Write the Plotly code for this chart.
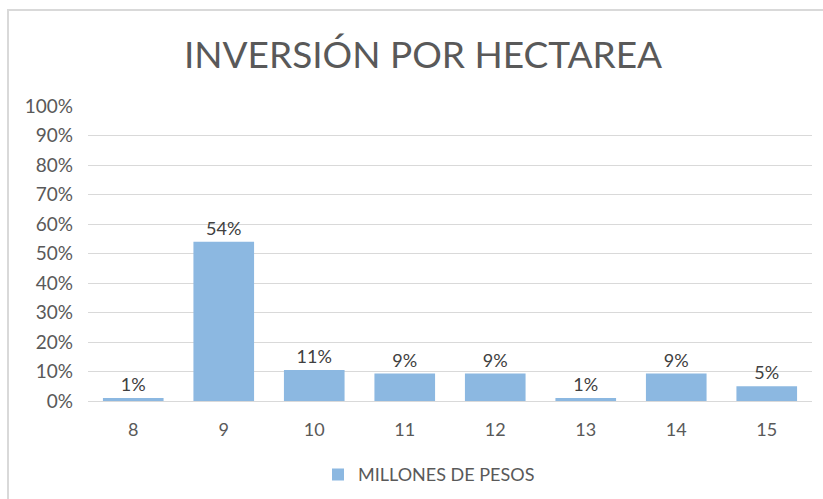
import plotly.graph_objects as go

# Data
categories = ["8", "9", "10", "11", "12", "13", "14", "15"]
values = [0.01, 0.54, 0.105, 0.093, 0.093, 0.01, 0.093, 0.05]
labels = ["1%", "54%", "11%", "9%", "9%", "1%", "9%", "5%"]
series_name = "MILLONES DE PESOS"

fig = go.Figure()
fig.add_trace(go.Bar(
    x=categories,
    y=values,
    name=series_name,
    text=labels,
    textposition="outside",
    textfont=dict(size=18, color="#404040"),
    marker=dict(color="#8CB8E1", line=dict(width=0)),
    cliponaxis=False,
    showlegend=True,
))

fig.update_layout(
    width=823,
    height=499,
    margin=dict(l=88, r=11, t=106, b=98, autoexpand=False),
    paper_bgcolor="white",
    plot_bgcolor="white",
    font=dict(family="Lato, sans-serif", color="#595959"),
    title=dict(
        text="INVERSIÓN POR HECTAREA",
        x=0.514, xanchor="center",
        y=0.89, yanchor="middle",
        font=dict(size=37, color="#595959", family="Lato, sans-serif"),
    ),
    bargap=0.33,
    legend=dict(
        orientation="h",
        x=(318 - 88) / 724, xanchor="left",
        y=-0.25, yanchor="middle",
        font=dict(size=18, color="#595959"),
        itemwidth=30,
    ),
    xaxis=dict(
        showgrid=False,
        tickfont=dict(size=18, color="#595959"),
        showline=True, linecolor="#D9D9D9", linewidth=1,
        ticks="",
        ticklabelstandoff=12,
        automargin=False,
    ),
    yaxis=dict(
        range=[0, 1],
        dtick=0.1,
        tickformat=".0%",
        tickfont=dict(size=19, color="#595959"),
        showgrid=True, gridcolor="#D9D9D9", gridwidth=1,
        zeroline=False,
        ticks="",
        ticklabelstandoff=14,
        automargin=False,
    ),
    shapes=[dict(
        type="rect", xref="paper", yref="paper",
        x0=-80 / 724, x1=1.05, y0=-0.4, y1=(499 - 10 - 98) / 295,
        line=dict(color="#D9D9D9", width=2), fillcolor="rgba(0,0,0,0)",
        layer="below",
    )],
)

# drop the default page margin so the figure sits at the window corner
fig.write_html(
    "out.html",
    config={"displayModeBar": False},
    post_script="document.body.style.margin='0';",
)
